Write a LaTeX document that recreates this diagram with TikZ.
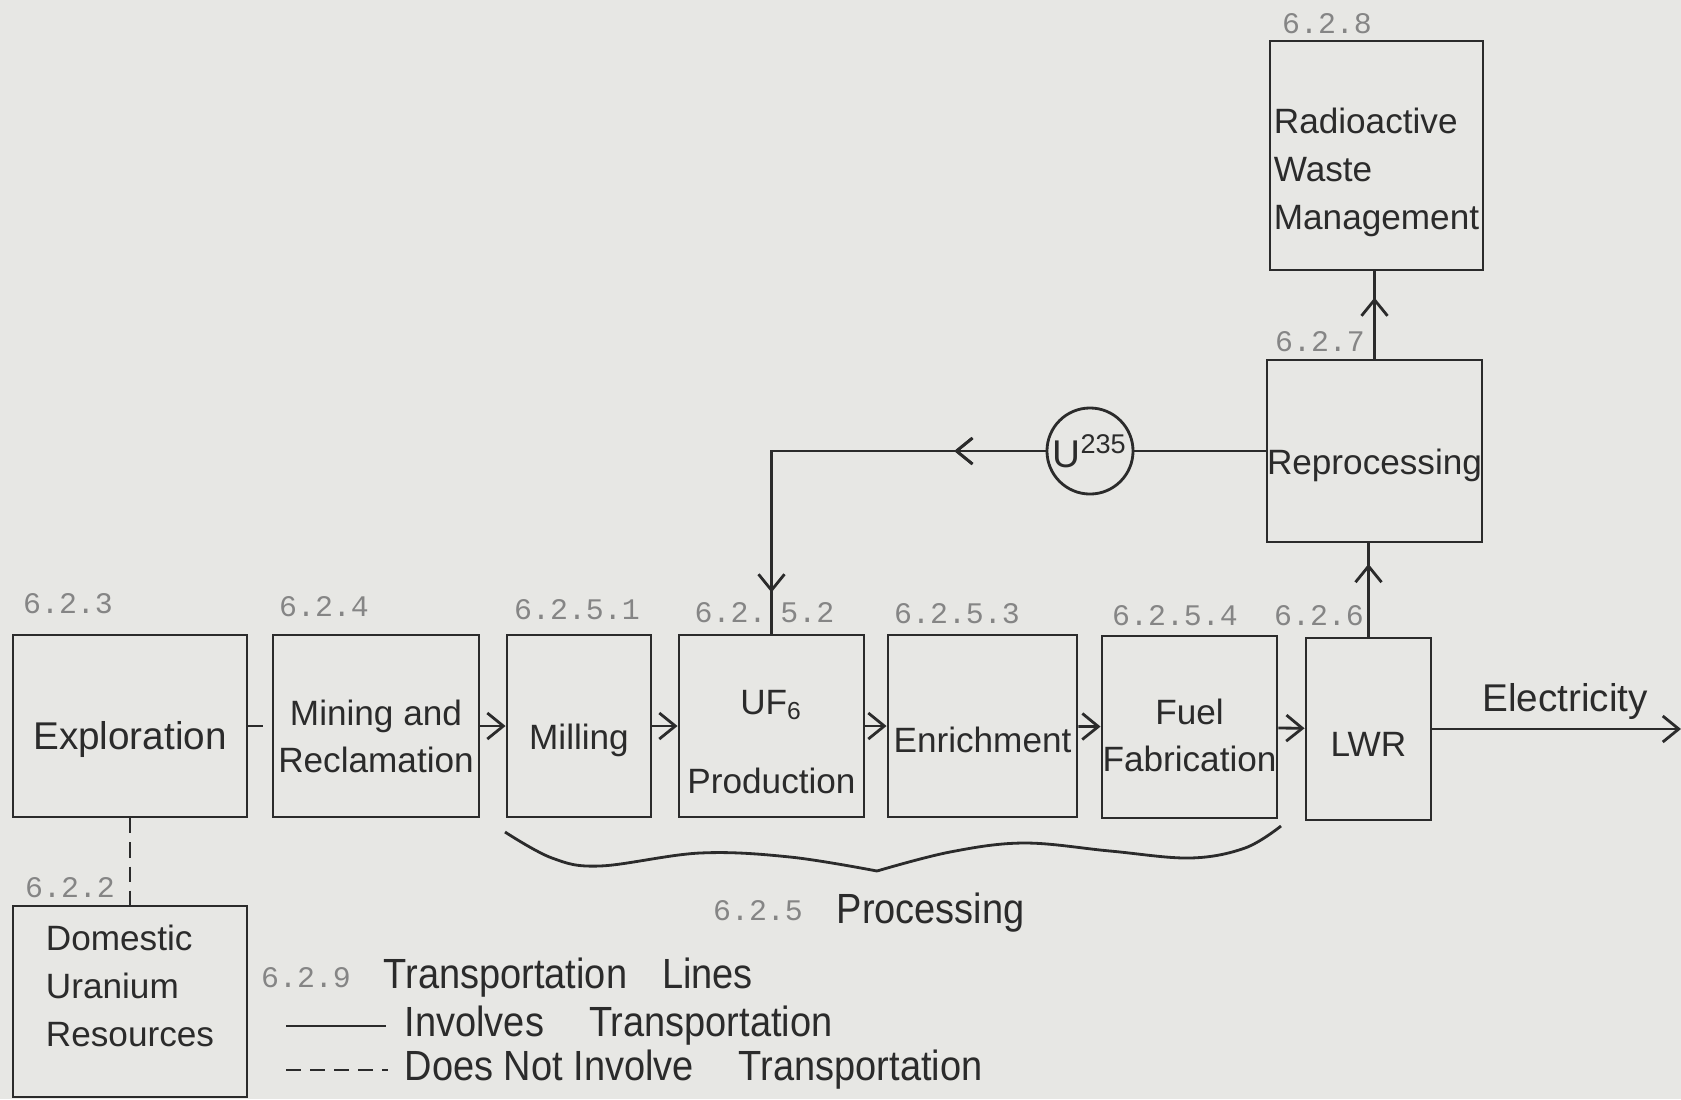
\documentclass[tikz,border=0pt]{standalone}
\usepackage{fontspec}
\setmainfont{Liberation Sans}
\newfontfamily\narrowfont[FakeStretch=0.9]{Liberation Sans}
\newfontfamily\secfont{Liberation Mono}
\usetikzlibrary{arrows.meta,positioning,decorations.markings}
\definecolor{Paper}{HTML}{E7E7E4}
\definecolor{Ink}{HTML}{2B2B2B}
\definecolor{Faint}{HTML}{858585}
\tikzset{lift/.style={execute at begin node={\rule{0pt}{#1}}},
  box/.style={draw=Ink,line width=0.8pt,minimum height=1.82cm,inner sep=0pt,
    align=center,text=Ink,font=\fontsize{10}{13.6}\selectfont,lift=0.54cm},
  secno/.style={text=Faint,inner sep=0pt,font=\secfont\fontsize{8.5}{10}\selectfont},
  solidline/.style={draw=Ink,line width=0.8pt},
  flow/.style={solidline,-{Straight Barb[length=1.6mm,width=2.6mm]}},
  nottrans/.style={solidline,dash pattern=on 1.5mm off 0.9mm},
  midarrow/.style={solidline,postaction={decorate},decoration={markings,
    mark=at position #1 with {\arrow{Straight Barb[length=1.6mm,width=2.6mm]}}}},
  legendtext/.style={text=Ink,inner sep=0pt,anchor=west,
    font=\narrowfont\fontsize{12}{15}\selectfont}}

\begin{document}
\begin{tikzpicture}[x=0.01cm,y=-0.01cm]
  \useasboundingbox (0,0) rectangle (1681,1099);
  \fill[Paper] (0,0) rectangle (1681,1099);
  \node[box,minimum width=2.34cm,font=\fontsize{11}{13.6}\selectfont] (expl) at (130,726) {Exploration};
  \node[box,minimum width=2.06cm,lift=0.94cm] (mine) at (376,726) {Mining and\\Reclamation};
  \node[box,minimum width=1.44cm] (mill) at (579,726) {Milling};
  \node[box,minimum width=1.85cm,lift=1.36cm] (uf6) at (771.5,726) {UF\textsubscript{6}\\[0.32cm]Production};
  \node[box,minimum width=1.89cm] (enr) at (982.5,726) {Enrichment};
  \node[box,minimum width=1.75cm,lift=0.9cm] (fuel) at (1189.5,727) {Fuel\\Fabrication};
  \node[box,minimum width=1.25cm] (lwr) at (1368.5,729) {LWR};
  \node[box,minimum width=2.11cm] (repro) at (1374.5,451) {Reprocessing};
  \node[box,minimum width=2.13cm,minimum height=2.29cm,align=left,lift=1.55cm] (waste) at (1376.5,155.5) {Radioactive\\Waste\\Management};
  \node[box,minimum width=2.34cm,minimum height=1.91cm,align=left,text depth=0.31cm] (dom) at (130,1001.5) {Domestic\\Uranium\\Resources};
  \node[draw=Ink,line width=0.8pt,circle,minimum size=0.86cm,inner sep=0pt,text=Ink,
    font=\fontsize{11}{12}\selectfont] (u235) at (1090,451) {U\textsuperscript{235}};
  \node[secno] (n623) at (68,604) {6.2.3};
  \node[secno] (n624) at (324,607) {6.2.4};
  \node[secno] (n6251) at (577,610) {6.2.5.1};
  \node[secno,anchor=west] (n6252) at (694,613) {6.2.\hspace{0.14cm}5.2};
  \node[secno] (n6253) at (957,614) {6.2.5.3};
  \node[secno] (n6254) at (1175,616) {6.2.5.4};
  \node[secno] (n626) at (1319,616) {6.2.6};
  \node[secno] (n627) at (1320,342) {6.2.7};
  \node[secno] (n628) at (1327,24) {6.2.8};
  \node[secno] (n622) at (70,888) {6.2.2};
  \draw[nottrans] (expl) -- (mine);
  \draw[nottrans] (expl) -- (dom);
  \draw[flow] (mine) -- (mill);
  \draw[flow] (mill) -- (uf6);
  \draw[flow] (uf6) -- (enr);
  \draw[flow] (enr) -- (fuel);
  \draw[flow] (fuel) -- (lwr);
  \draw[midarrow=0.78] (lwr.north) -- (lwr.north |- repro.south);
  \draw[midarrow=0.7] (repro.north) -- (repro.north |- waste.south);
  \draw[solidline] (repro) -- (u235);
  \draw[midarrow=0.2,postaction={decorate,decoration={markings,
    mark=at position 0.91 with {\arrow{Straight Barb[length=1.6mm,width=2.6mm]}}}}]
    (u235.west) -| (uf6.north);
  \coordinate (elecend) at (1681,729);
  \draw[flow] (lwr) -- (elecend);
  \node[text=Ink,font=\fontsize{11}{12}\selectfont] (elec) at (1565,701) {Electricity};
  \draw[solidline] plot[smooth,tension=0.6] coordinates {(505,832) (552,858) (600,866) (700,853) (790,857) (877,871)};
  \draw[solidline] plot[smooth,tension=0.6] coordinates {(877,871) (950,852) (1024,843) (1110,851) (1190,858) (1245,848) (1281,826)};
  \node[secno] (n625) at (758,911) {6.2.5};
  \node[legendtext] (proc) at (836,913) {Processing};
  \node[secno] (n629) at (306,978) {6.2.9};
  \node[legendtext] (lgtitle) at (383,978) {Transportation\hspace{0.35cm}Lines};
  \coordinate (sola) at (286,1026);
  \coordinate (solb) at (386,1026);
  \draw[solidline] (sola) -- (solb);
  \node[legendtext] (lgsolid) at (404,1026) {Involves\hspace{0.45cm}Transportation};
  \coordinate (dasha) at (286,1070);
  \coordinate (dashb) at (388,1070);
  \draw[nottrans] (dasha) -- (dashb);
  \node[legendtext] (lgdash) at (404,1070) {Does Not Involve\hspace{0.45cm}Transportation};
\end{tikzpicture}
\end{document}
